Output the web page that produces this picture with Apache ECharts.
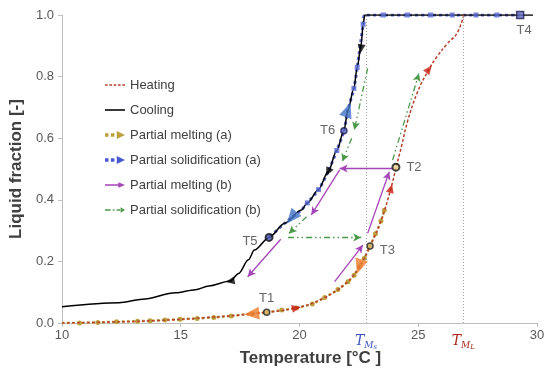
<!DOCTYPE html>
<html><head><meta charset="utf-8">
<script src="https://cdn.jsdelivr.net/npm/echarts@6/dist/echarts.min.js"></script>
<style>html,body{margin:0;padding:0;background:#fff}#c{width:550px;height:385px}</style>
</head><body><div id="c"></div>
<script>
// ---- data (temperature [°C], liquid fraction [-]) ----
const heatT = [10,12,14,16,18,19.87,21,22,22.5,22.97,23.43,23.85,24.07,24.3,24.55,24.97,25.45,25.8,26.2,26.64,26.92];
const heatF = [0,0.003,0.008,0.017,0.030,0.049,0.08,0.132,0.18,0.25,0.331,0.437,0.506,0.575,0.655,0.75,0.824,0.866,0.905,0.942,1.0];

const coolT = [10.0,12.41,13.39,14.78,15.62,16.18,17.08,17.44,17.85,18.1,18.72,19.38,20.08,20.33,20.8,21.2,21.57,21.87,22.04,22.29,22.43,22.59,22.68,22.75,29.83];
const coolF = [0.053,0.066,0.077,0.098,0.108,0.12,0.136,0.161,0.205,0.237,0.278,0.324,0.367,0.39,0.433,0.49,0.56,0.624,0.692,0.762,0.83,0.9,0.97,1.0,1.0];

const pmaT = [10,10.74,11.51,12.30,13.18,13.71,14.34,14.97,15.69,16.39,17.13,17.99,18.62,19.25,19.87,20.54,21.06,21.62,22.04,22.3,22.52,22.73,22.97,23.2,23.43,23.57];
const pmaF = [0,0,0.002,0.004,0.006,0.007,0.010,0.012,0.015,0.018,0.023,0.030,0.035,0.042,0.049,0.062,0.083,0.109,0.134,0.155,0.183,0.21,0.25,0.29,0.331,0.366];

const psaT = [29.29,28.31,27.43,26.43,25.52,24.54,23.53,22.75,22.68,22.43,22.29,22.04,21.87,21.57,21.2,20.8,20.33,20.08,19.67,19.38,18.72];
const psaF = [1,1,1,1,1,1,1,1,0.97,0.83,0.762,0.692,0.624,0.56,0.49,0.433,0.39,0.367,0.342,0.324,0.278];
const psaMarkT = [28.31,27.43,26.43,25.52,24.54,23.53,22.68,22.43,22.29,21.57,20.8,20.33];
const psaMarkF = [1,1,1,1,1,1,0.97,0.83,0.762,0.56,0.433,0.39];

// segments [T1, F1, T2, F2]
const pmbSegs = [[21.48,0.134,22.67,0.253],[22.87,0.291,23.78,0.491],[23.92,0.502,21.69,0.502],[21.69,0.497,20.50,0.351],[19.21,0.272,17.82,0.150]];
const psbSegs = [[19.52,0.278,22.6,0.278],[23.92,0.529,25.03,0.81],[22.87,0.827,22.31,0.627],[22.2,0.60,21.8,0.524],[20.3,0.345,19.55,0.29]];

// direction arrows
const blackArrT = [22.59,21.2,17.08], blackArrF = [0.89,0.49,0.136];
const redArrT = [19.87,23.85,25.45], redArrF = [0.049,0.437,0.824];
const orangeArrT = [17.99,22.52], orangeArrF = [0.030,0.183];
const blueArrT = [22.04,19.67], blueArrF = [0.692,0.342];

const ptNames = ['T1','T2','T3','T4','T5','T6'];
const ptT = [18.62,24.06,22.97,29.29,18.72,21.87];
const ptF = [0.035,0.506,0.25,1.0,0.278,0.624];

const tMs = 22.8, tML = 26.9;
const xTicks = [10,15,20,25,30];
const yTicks = [0,0.2,0.4,0.6,0.8,1.0];

// ---- styles ----
const FONT = 'Liberation Sans';
const C_HEAT = '#b5442e', C_COOL = '#000000', C_GOLD = '#bfa040', C_BLUE = '#5a6ad2',
      C_PURP = '#a545b8', C_GREEN = '#4a9a4a', C_RED = '#c81e10', C_ORANGE = '#ed7d31', C_BLUE2 = '#4472c4';
const zip = (a,b) => a.map((v,i)=>[v,b[i]]);
const arrows = (T,F,rots) => T.map((t,i)=>({value:[t,F[i]], symbolRotate: rots[i]}));
const segs = s => s.map(g=>[{coord:[g[0],g[1]]},{coord:[g[2],g[3]]}]);

const chart = echarts.init(document.getElementById('c'), null, {renderer:'canvas'});
const ptStyles = [
  {symbol:'circle', symbolSize:6, itemStyle:{color:'#d9c070', borderColor:'#222', borderWidth:1.5}, label:{position:'top', distance:4}},
  {symbol:'circle', symbolSize:7, itemStyle:{color:'#e8d090', borderColor:'#111', borderWidth:2}, label:{position:'right', distance:6}},
  {symbol:'circle', symbolSize:6, itemStyle:{color:'#d9c070', borderColor:'#222', borderWidth:1.5}, label:{position:'right', distance:6, offset:[0,4]}},
  {symbol:'rect', symbolSize:7, itemStyle:{color:'#6a70c8', borderColor:'#1e1e50', borderWidth:1.5}, label:{position:'bottom', distance:5, offset:[4,0]}},
  {symbol:'circle', symbolSize:7, itemStyle:{color:'#4a5ab8', borderColor:'#111', borderWidth:2}, label:{position:'left', distance:7, offset:[0,4]}},
  {symbol:'circle', symbolSize:6, itemStyle:{color:'#6070d0', borderColor:'#1e1e50', borderWidth:1.5}, label:{position:'left', distance:5}}
];

const subRich = color => ({
  t:{fontFamily:'DejaVu Serif', fontStyle:'italic', fontSize:14, color:color},
  m:{fontFamily:'DejaVu Serif', fontStyle:'italic', fontSize:9, color:color, padding:[8,0,0,0]},
  s:{fontFamily:'DejaVu Serif', fontStyle:'italic', fontSize:7, color:color, padding:[12,0,0,0]}
});

const option = {
  animation:false,
  backgroundColor:'#ffffff',
  textStyle:{fontFamily:FONT},
  grid:{left:59, right:13, top:15, bottom:62, containLabel:false},
  legend:{
    orient:'vertical', left:100, top:73, itemWidth:20, itemHeight:10, itemGap:11,
    textStyle:{fontFamily:FONT, fontSize:13, color:'#404040', lineHeight:14},
    data:[
      {name:'Heating', icon:'path://M0,0h2.5v1.4h-2.5zM4,0h2.5v1.4h-2.5zM8,0h2.5v1.4h-2.5zM12,0h2.5v1.4h-2.5zM16,0h2.5v1.4h-2.5z', itemStyle:{color:C_HEAT, borderWidth:0}},
      {name:'Cooling', icon:'path://M0,0h18v1.4h-18z', itemStyle:{color:'#000', borderWidth:0}},
      {name:'Partial melting (a)', icon:'path://M0,2h3v3h-3zM5,2h3v3h-3zM10,0L17,3.5L10,7z', itemStyle:{color:C_GOLD, borderWidth:0}},
      {name:'Partial solidification (a)', icon:'path://M0,2h3v3h-3zM5,2h3v3h-3zM10,0L17,3.5L10,7z', itemStyle:{color:'#4a5ad0', borderWidth:0}},
      {name:'Partial melting (b)', icon:'path://M0,2.9h13v1.2h-13zM12,1L18,3.5L12,6z', itemStyle:{color:C_PURP, borderWidth:0}},
      {name:'Partial solidification (b)', icon:'path://M0,2.9h5v1.2h-5zM7,2.9h1.5v1.2h-1.5zM10.5,2.9h3v1.2h-3zM14,1L18,3.5L14,6z', itemStyle:{color:C_GREEN, borderWidth:0}}
    ]
  },
  xAxis:{
    type:'value', min:10, max:30, interval:5,
    name:'Temperature [°C ]', nameLocation:'middle', nameGap:27,
    nameTextStyle:{fontFamily:FONT, fontSize:17, fontWeight:'bold', color:'#404040', padding:[0,0,0,22]},
    axisLine:{show:true, onZero:false, lineStyle:{color:'#bfbfbf'}},
    axisTick:{show:true, inside:false, length:4, lineStyle:{color:'#bfbfbf'}},
    axisLabel:{fontFamily:FONT, fontSize:13, color:'#595959', margin:6},
    splitLine:{show:false}
  },
  yAxis:{
    type:'value', min:0, max:1, interval:0.2,
    name:'Liquid fraction [-]', nameLocation:'middle', nameGap:35,
    nameTextStyle:{fontFamily:FONT, fontSize:17, fontWeight:'bold', color:'#404040'},
    axisLine:{show:true, lineStyle:{color:'#bfbfbf'}},
    axisTick:{show:true, inside:false, length:4, lineStyle:{color:'#bfbfbf'}},
    axisLabel:{fontFamily:FONT, fontSize:13, color:'#595959', margin:8, formatter:v=>v.toFixed(1)},
    splitLine:{show:false}
  },
  series:[
    {name:'Partial solidification (a)', type:'line', z:2, color:C_BLUE, data:zip(psaT,psaF), smooth:0.3,
     showSymbol:false, symbol:'none', lineStyle:{color:C_BLUE, width:3, type:'dotted'}},
    {name:'Partial melting (a)', type:'line', z:2, color:C_GOLD, data:zip(pmaT,pmaF).map((p,i)=>i===0?{value:p, symbol:'none'}:p),
     smooth:0.3, symbol:'circle', symbolSize:5, showSymbol:true, itemStyle:{color:C_GOLD},
     lineStyle:{color:C_GOLD, width:2.5, type:'dotted'}},
    {name:'Cooling', type:'line', z:3, color:C_COOL, data:zip(coolT,coolF), smooth:0.3, smoothMonotone:'x',
     symbol:'none', lineStyle:{color:C_COOL, width:1.5}},
    {name:'Heating', type:'line', z:3, color:C_HEAT, data:zip(heatT,heatF), smooth:0.4,
     symbol:'none', lineStyle:{color:C_HEAT, width:1.5, type:[3,2]},
     markLine:{silent:true, symbol:'none', lineStyle:{color:'#a6a6a6', type:[1,2], width:1},
       label:{show:true, position:'start', distance:9},
       data:[
         {xAxis:tMs, label:{formatter:'{t|T}{m|M}{s|s}', rich:subRich('#3c56c0')}},
         {xAxis:tML, label:{formatter:'{t|T}{m|M}{s|L}', rich:subRich('#a82818')}}
       ]}},
    {name:'Partial solidification (a)', type:'scatter', z:4, color:C_BLUE, data:zip(psaMarkT,psaMarkF), symbol:'rect', symbolSize:5,
     itemStyle:{color:C_BLUE}},
    {name:'Partial melting (b)', type:'line', z:4, color:C_PURP, data:[], symbol:'none', lineStyle:{color:C_PURP, width:1.5},
     markLine:{silent:true, symbol:['none','arrow'], symbolSize:[6,8], label:{show:false},
       lineStyle:{color:C_PURP, width:1.3, type:'solid'}, data:segs(pmbSegs)}},
    {name:'Partial solidification (b)', type:'line', z:4, color:C_GREEN, data:[], symbol:'none', lineStyle:{color:C_GREEN, width:1.5, type:[6,3,2,3]},
     markLine:{silent:true, symbol:['none','arrow'], symbolSize:[6,8], label:{show:false},
       lineStyle:{color:C_GREEN, width:1.3, type:[6,3,1.5,3,1.5,3]}, data:segs(psbSegs)}},
    {type:'scatter', z:5, symbol:'triangle', symbolSize:[8,9], itemStyle:{color:'#000'}, data:arrows(blackArrT,blackArrF,[172,154,100])},
    {type:'scatter', z:5, symbol:'triangle', symbolSize:[8,9], itemStyle:{color:C_RED}, data:arrows(redArrT,redArrF,[-78,-15,-38])},
    {type:'scatter', z:5, symbol:'triangle', symbolSize:[13,15], itemStyle:{color:C_ORANGE}, data:arrows(orangeArrT,orangeArrF,[95,162])},
    {type:'scatter', z:5, symbol:'triangle', symbolSize:[13,15], itemStyle:{color:C_BLUE2}, data:arrows(blueArrT,blueArrF,[-20,140])},
    {type:'scatter', z:6,
     label:{show:true, formatter:p=>p.name, fontFamily:FONT, fontSize:13, color:'#404040'},
     data:ptNames.map((n,i)=>Object.assign({name:n, value:[ptT[i],ptF[i]]}, ptStyles[i]))}
  ]
};
chart.setOption(option);
</script></body></html>
